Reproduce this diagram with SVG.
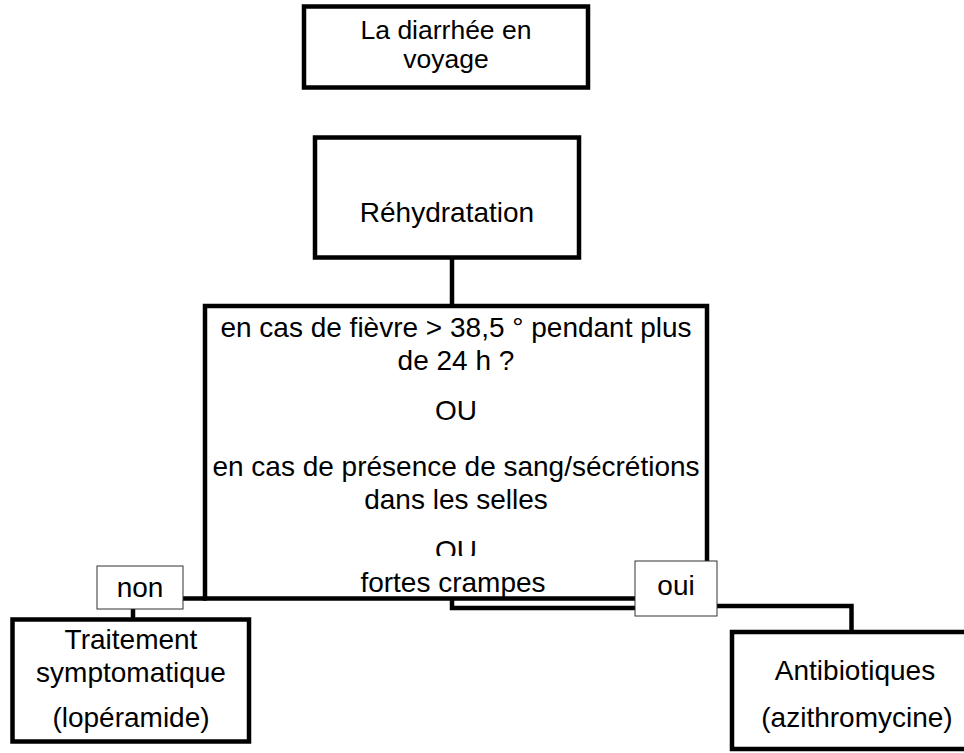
<svg xmlns="http://www.w3.org/2000/svg" width="964" height="753" viewBox="0 0 964 753">
  <style>
    .box { fill: #ffffff; stroke: #000000; stroke-width: 4.5; }
    .lbl { fill: #ffffff; stroke: #333333; stroke-width: 1; }
    .conn { fill: none; stroke: #000000; stroke-width: 4.5; }
    text { font-family: "Liberation Sans", Arial, sans-serif; font-size: 28px; fill: #000000; text-anchor: middle; }
    .tight { font-size: 26.5px; }
  </style>
  <defs>
    <clipPath id="ouClip"><rect x="200" y="520" width="520" height="36"/></clipPath>
  </defs>
  <g id="connectors">
    <line class="conn" x1="452" y1="257.5" x2="452" y2="306"/>
    <line class="conn" x1="183" y1="598.5" x2="207" y2="598.5"/>
    <line class="conn" x1="133" y1="609" x2="133" y2="620"/>
    <path class="conn" d="M452 598.5 V608 H636"/>
    <path class="conn" d="M717 606 H851.5 V632"/>
  </g>
  <g id="node-titre">
    <rect class="box" x="304" y="6.5" width="284" height="81"/>
    <text class="tight" x="446" y="38.5">La diarrhée en</text>
    <text class="tight" x="446" y="68">voyage</text>
  </g>
  <g id="node-rehydratation">
    <rect class="box" x="315" y="137.5" width="264" height="120"/>
    <text x="447" y="222">Réhydratation</text>
  </g>
  <g id="node-question">
    <rect class="box" x="205" y="306" width="502" height="292.5"/>
    <text x="456" y="337">en cas de fièvre &gt; 38,5 ° pendant plus</text>
    <text x="456" y="370">de 24 h ?</text>
    <text x="456" y="420">OU</text>
    <text x="456" y="476">en cas de présence de sang/sécrétions</text>
    <text x="456" y="509">dans les selles</text>
    <text x="456" y="560" clip-path="url(#ouClip)">OU</text>
    <text x="453" y="592">fortes crampes</text>
  </g>
  <g id="node-non">
    <rect class="lbl" x="97" y="566" width="86" height="43"/>
    <text x="140" y="597">non</text>
  </g>
  <g id="node-oui">
    <rect class="lbl" x="635" y="561" width="82" height="55"/>
    <text x="676" y="595">oui</text>
  </g>
  <g id="node-traitement">
    <rect class="box" x="12.5" y="619.5" width="236.5" height="122"/>
    <text x="131" y="649">Traitement</text>
    <text x="131" y="682">symptomatique</text>
    <text x="131" y="727">(lopéramide)</text>
  </g>
  <g id="node-antibiotiques">
    <rect class="box" x="732" y="632" width="260" height="117"/>
    <text x="855" y="680">Antibiotiques</text>
    <text x="857" y="727">(azithromycine)</text>
  </g>
</svg>
